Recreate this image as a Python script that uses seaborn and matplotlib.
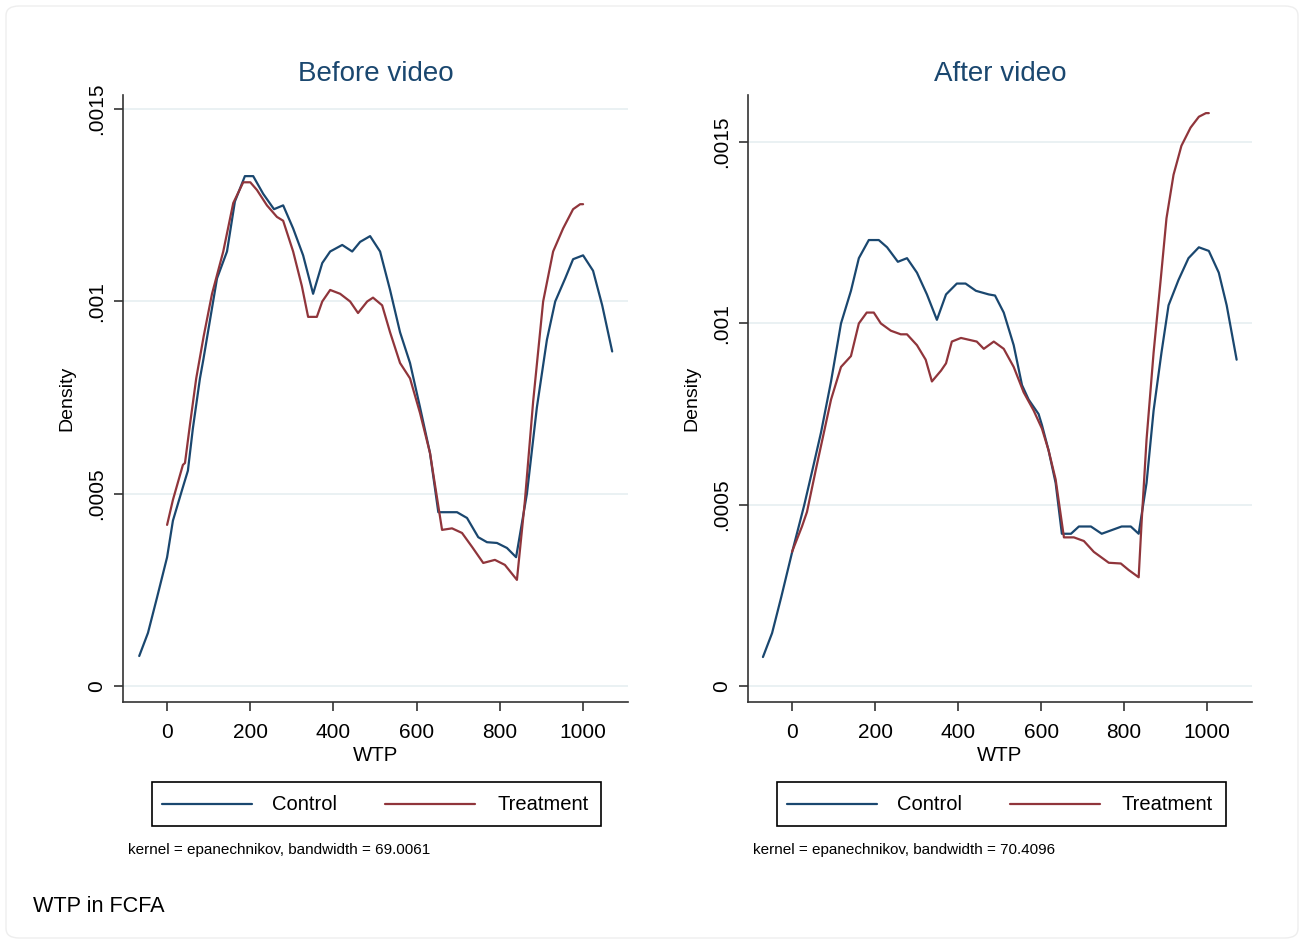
import matplotlib
matplotlib.use("Agg")
import matplotlib.pyplot as plt
import seaborn as sns
import pandas as pd
from matplotlib.patches import FancyBboxPatch, Rectangle
from matplotlib.lines import Line2D

# ---------------- data ----------------
before_ctrl_x = [-67, -46, -24, 0, 14, 36, 50, 62, 79, 87, 120, 144, 163, 187, 207, 231, 257, 279,
                 303, 327, 351, 373, 392, 421, 445, 464, 488, 512, 536, 560, 584, 608, 632, 652,
                 697, 721, 748, 769, 793, 817, 839, 865, 889, 913, 933, 957, 976, 1000, 1024,
                 1046, 1070]
before_ctrl_y = [0.000078, 0.000138, 0.000231, 0.000335, 0.00043, 0.00051, 0.00056, 0.00067,
                 0.0008, 0.000848, 0.00106, 0.00113, 0.00126, 0.001326, 0.001326, 0.00128,
                 0.00124, 0.00125, 0.00119, 0.00112, 0.00102, 0.0011, 0.00113, 0.001147, 0.00113,
                 0.001155, 0.00117, 0.00113, 0.00103, 0.00092, 0.00084, 0.000725, 0.000606,
                 0.000452, 0.000452, 0.000437, 0.000387, 0.000374, 0.000372, 0.000359, 0.000335,
                 0.0005, 0.000725, 0.0009, 0.001, 0.00106, 0.00111, 0.00112, 0.00108, 0.00099,
                 0.00087]
before_trt_x = [0, 14, 38, 43, 55, 70, 88, 108, 135, 159, 183, 200, 216, 240, 264, 279, 303, 324,
                339, 360, 373, 392, 416, 440, 459, 481, 495, 517, 536, 560, 584, 608, 632, 661,
                685, 709, 733, 760, 788, 812, 841, 860, 880, 904, 928, 952, 976, 993, 1000]
before_trt_y = [0.000419, 0.000484, 0.000575, 0.00058, 0.00068, 0.0008, 0.00091, 0.00102,
                0.00113, 0.001256, 0.00131, 0.00131, 0.00129, 0.00125, 0.00122, 0.00121, 0.00113,
                0.00104, 0.00096, 0.00096, 0.001, 0.00103, 0.00102, 0.001, 0.00097, 0.001,
                0.00101, 0.00099, 0.00092, 0.00084, 0.0008, 0.00071, 0.000606, 0.000406, 0.00041,
                0.000398, 0.000362, 0.00032, 0.000328, 0.000315, 0.000276, 0.00048, 0.00074,
                0.001, 0.00113, 0.00119, 0.00124, 0.001253, 0.001253]

after_ctrl_x = [-70, -48, -26, 0, 29, 50, 70, 94, 118, 142, 161, 185, 209, 229, 255, 277,
                301, 325, 349, 371, 397, 418, 443, 474, 489, 510, 534, 554, 570, 594, 602, 618,
                635, 650, 672, 691, 720, 746, 770, 794, 816, 835, 854, 871, 890, 907, 931, 955,
                980, 1004, 1028, 1047, 1071]
after_ctrl_y = [0.00008, 0.000146, 0.000245, 0.000368, 0.000497, 0.0006, 0.0007, 0.00084,
                0.001, 0.00109, 0.00118, 0.00123, 0.00123, 0.00121, 0.00117, 0.00118,
                0.00114, 0.00108, 0.00101, 0.00108, 0.00111, 0.00111, 0.00109, 0.00108, 0.001077,
                0.00103, 0.00094, 0.00083, 0.00079, 0.00075, 0.00072, 0.00065, 0.00056, 0.00042,
                0.00042, 0.00044, 0.00044, 0.00042, 0.00043, 0.00044, 0.00044, 0.00042, 0.00056,
                0.00076, 0.00092, 0.00105, 0.00112, 0.00118, 0.00121, 0.0012, 0.00114, 0.00105,
                0.0009]
after_trt_x = [0, 24, 36, 58, 77, 94, 118, 142, 161, 180, 197, 214, 238, 262, 277, 301, 322, 337,
               359, 371, 385, 407, 445, 462, 486, 510, 534, 558, 582, 602, 618, 635, 655, 679,
               703, 727, 763, 792, 811, 835, 842, 854, 871, 888, 902, 919, 938, 960, 980, 997,
               1004]
after_trt_y = [0.00037, 0.00044, 0.00048, 0.0006, 0.0007, 0.00079, 0.00088, 0.00091, 0.001,
               0.00103, 0.00103, 0.001, 0.00098, 0.00097, 0.00097, 0.00094, 0.0009, 0.00084,
               0.00087, 0.00089, 0.00095, 0.00096, 0.00095, 0.00093, 0.00095, 0.00093, 0.00088,
               0.00081, 0.00076, 0.00071, 0.00065, 0.00057, 0.00041, 0.00041, 0.0004, 0.00037,
               0.00034, 0.000338, 0.00032, 0.0003, 0.00045, 0.00068, 0.00092, 0.00112, 0.00129,
               0.00141, 0.00149, 0.00154, 0.00157, 0.00158, 0.00158]

panel_titles = ["Before video", "After video"]
groups = ["Control", "Treatment"]
notes = ["kernel = epanechnikov, bandwidth = 69.0061", "kernel = epanechnikov, bandwidth = 70.4096"]
x_ticks = [0, 200, 400, 600, 800, 1000]
y_ticks = [0, 0.0005, 0.001, 0.0015]
y_tick_labels = ["0", ".0005", ".001", ".0015"]

# ---------------- style ----------------
sns.set_theme(style="white")
plt.rcParams["font.family"] = ["Liberation Sans", "DejaVu Sans"]

navy = "#1a476f"
maroon = "#90353b"
grid_c = "#e8f0f2"
palette = {"Control": navy, "Treatment": maroon}

fig = plt.figure(figsize=(13.05, 9.44), dpi=100)
W, H = 1305, 944

def fx(px):
    return px / W

def fy(py):
    return 1 - py / H

panels = [
    dict(ctrl=(before_ctrl_x, before_ctrl_y), trt=(before_trt_x, before_trt_y),
         box=(123, 628), ylim=(-0.0000416, 0.001537)),
    dict(ctrl=(after_ctrl_x, after_ctrl_y), trt=(after_trt_x, after_trt_y),
         box=(748, 1252), ylim=(-0.000044, 0.00163)),
]

tick_fs = 15
for i, p in enumerate(panels):
    x0, x1 = p["box"]
    ax = fig.add_axes([fx(x0), fy(702), fx(x1) - fx(x0), fy(95) - fy(702)])
    df = pd.concat([
        pd.DataFrame({"WTP": p["ctrl"][0], "Density": p["ctrl"][1], "grp": groups[0]}),
        pd.DataFrame({"WTP": p["trt"][0], "Density": p["trt"][1], "grp": groups[1]}),
    ])
    for y in y_ticks:
        ax.axhline(y, color=grid_c, lw=1.3, zorder=0)
    sns.lineplot(data=df, x="WTP", y="Density", hue="grp", palette=palette, ax=ax,
                 lw=1.6, sort=False, estimator=None, legend=False)
    ax.set_xlim(-106, 1108)
    ax.set_ylim(*p["ylim"])
    ax.set_xticks(x_ticks)
    ax.set_xticklabels([str(t) for t in x_ticks], fontsize=tick_fs)
    ax.set_yticks(y_ticks)
    ax.set_yticklabels(y_tick_labels, fontsize=tick_fs, rotation=90, va="center")
    for s in ["top", "right"]:
        ax.spines[s].set_visible(False)
    for s in ["left", "bottom"]:
        ax.spines[s].set_color("#333333")
        ax.spines[s].set_linewidth(1.2)
    ax.tick_params(axis="both", direction="out", length=6.5, width=1.2, color="#333333",
                   pad=6, bottom=True, left=True, labelcolor="black")
    ax.tick_params(axis="x", pad=8.5)
    ax.set_xlabel("WTP", fontsize=14.7, labelpad=3, color="black")
    ax.set_ylabel("Density", fontsize=14, labelpad=8, color="black")
    ax.set_title(panel_titles[i], fontsize=20, color=navy, pad=10)
    ax.set_facecolor("white")

    # legend box (drawn in figure pixel coordinates)
    off = x0 - 123
    fig.patches.append(Rectangle((fx(152 + off), fy(826)), fx(449), fy(782) - fy(826),
                                 transform=fig.transFigure, fill=False, edgecolor="black",
                                 lw=1.2))
    for g, (lx0, lx1, tx) in zip(groups, [(162, 252, 272), (385, 475, 497)]):
        fig.lines.append(Line2D([fx(lx0 + off), fx(lx1 + off)], [fy(804), fy(804)],
                                transform=fig.transFigure, color=palette[g], lw=1.6))
        fig.text(fx(tx + off), fy(804), g, fontsize=14.5, va="center", ha="left",
                 color="black")
    fig.text(fx(x0 + 5), fy(850), notes[i], fontsize=11, va="center", ha="left", color="black")

fig.text(fx(33), fy(906), "WTP in FCFA", fontsize=15.6, va="center", ha="left", color="black")

frame = FancyBboxPatch((fx(6), fy(938)), fx(1298) - fx(6), fy(6) - fy(938),
                       boxstyle="round,pad=0,rounding_size=0.01", transform=fig.transFigure,
                       fill=False, edgecolor="#eeeeee", lw=1.0)
fig.patches.append(frame)

fig.savefig("out.png", dpi=100, facecolor="white")
